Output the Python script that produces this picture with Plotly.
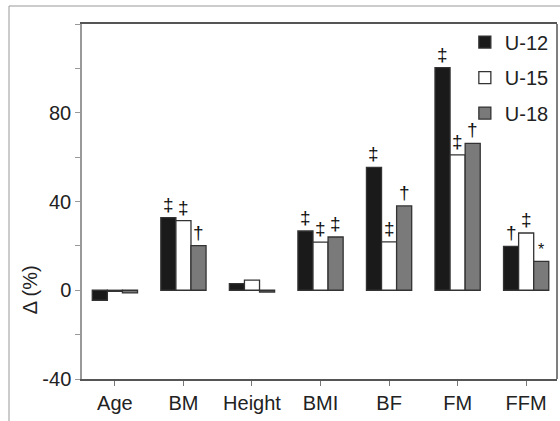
import plotly.graph_objects as go

categories = ["Age", "BM", "Height", "BMI", "BF", "FM", "FFM"]
series_names = ["U-12", "U-15", "U-18"]
u12 = [-4.5, 32.7, 3.0, 26.7, 55.4, 100.3, 19.8]
u15 = [-0.5, 31.4, 4.6, 21.7, 21.8, 61.0, 25.8]
u18 = [-1.2, 20.1, -0.8, 24.0, 38.0, 66.2, 13.0]
sig12 = ["", "‡", "", "‡", "‡", "‡", "†"]
sig15 = ["", "‡", "", "‡", "‡", "‡", "‡"]
sig18 = ["", "†", "", "‡", "†", "†", "*"]
y_tickvals = [-40, -20, 0, 20, 40, 60, 80, 100, 120]
y_ticktext = ["-40", "", "0", "", "40", "", "80", "", ""]
y_title = "Δ (%)"

FONT = "Arial, Liberation Sans, sans-serif"
TXT = "#222222"
colors = ["#1a1a1a", "#ffffff", "#7a7a7a"]
values = [u12, u15, u18]
sigs = [sig12, sig15, sig18]

W, H = 560, 421
L, R, T, B = 82, 3, 24, 42
bargap = 0.34
bw = (1 - bargap) / 3

fig = go.Figure()
for i, (name, vals, col) in enumerate(zip(series_names, values, colors)):
    fig.add_trace(go.Bar(
        x=categories, y=vals, name=name, legendgroup=name,
        marker=dict(color=col, line=dict(color="#333333", width=1.3)),
    ))

pw = W - L - R
ph = H - T - B

annotations = []
for i, (vals, sg) in enumerate(zip(values, sigs)):
    off = (i - 1) * bw
    for j, (v, s) in enumerate(zip(vals, sg)):
        if not s:
            continue
        annotations.append(dict(
            x=j + off, y=max(v, 0), xref="x", yref="y", text=s,
            showarrow=False, yanchor="bottom", yshift=1,
            font=dict(family=FONT, size=19 if s != "*" else 16, color="#111111"),
        ))
# y-axis title, centred near the zero line as in the reference
annotations.append(dict(
    x=(30 - L) / pw, y=0, xref="paper", yref="y", text=y_title, textangle=-90,
    showarrow=False, xanchor="center", yanchor="middle",
    font=dict(family=FONT, size=20, color=TXT),
))

x_out = (9 - L) / pw
y_out = (H - B - 6) / ph

shapes = [
    dict(type="line", xref="paper", yref="paper", x0=x_out, x1=x_out, y0=-0.3, y1=y_out,
         line=dict(color="#999999", width=1)),
    dict(type="line", xref="paper", yref="paper", x0=x_out, x1=1.2, y0=y_out, y1=y_out,
         line=dict(color="#999999", width=1)),
    dict(type="line", xref="paper", yref="paper", x0=1, x1=1, y0=0, y1=1,
         line=dict(color="#555555", width=1.5)),
]

fig.update_layout(
    width=W, height=H,
    margin=dict(l=L, r=R, t=T, b=B, pad=0),
    paper_bgcolor="white", plot_bgcolor="white",
    barmode="group", bargap=bargap, bargroupgap=0,
    font=dict(family=FONT, size=20, color=TXT),
    showlegend=True,
    legend=dict(x=0.806, y=1.004, xanchor="left", yanchor="top",
                font=dict(family=FONT, size=20, color=TXT),
                bgcolor="rgba(0,0,0,0)", tracegroupgap=6.5, traceorder="grouped"),
    annotations=annotations,
    shapes=shapes,
)
fig.update_xaxes(
    range=[-0.48, 6.45], showline=True, linecolor="#555555", linewidth=1.5, mirror=True,
    ticks="outside", ticklen=5, tickcolor="#777777", tickwidth=1,
    showgrid=False, zeroline=False, tickfont=dict(size=20, color=TXT),
)
fig.update_yaxes(
    range=[-40, 120], showline=True, linecolor="#999999", linewidth=1.5, mirror=False,
    tickvals=y_tickvals, ticktext=y_ticktext,
    ticks="outside", ticklen=5, tickcolor="#999999", tickwidth=1,
    showgrid=False, zeroline=False, tickfont=dict(size=20, color=TXT),
)

fig.write_html("out.html", config={"displayModeBar": False},
               post_script="document.body.style.margin='0px';")
